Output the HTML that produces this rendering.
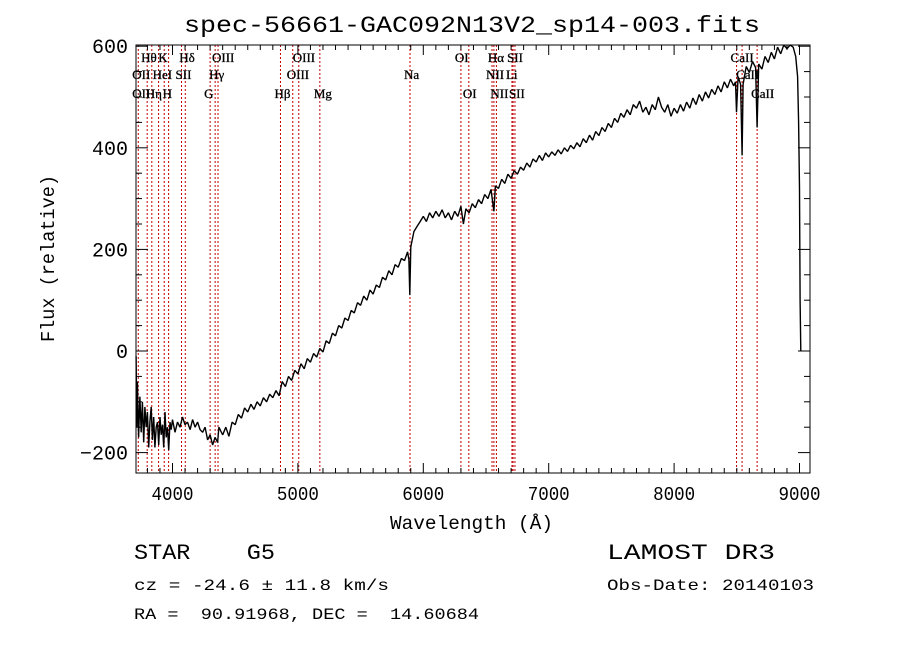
<!DOCTYPE html>
<html><head><meta charset="utf-8">
<style>
html,body{margin:0;padding:0;background:#fff;}
svg{display:block;}
.t{font-family:"Liberation Mono",monospace;fill:#000;white-space:pre;}
.lab{font-family:"Liberation Serif",serif;font-size:13px;fill:#000;}
</style></head>
<body>
<svg id="chart" width="900" height="649" xmlns="http://www.w3.org/2000/svg">
<rect width="900" height="649" fill="#fff"/>
<text class="t" x="184" y="32" font-size="23" textLength="576" lengthAdjust="spacingAndGlyphs">spec-56661-GAC092N13V2_sp14-003.fits</text>
<g id="lines"></g>
<g id="labels"></g>
<g id="spec"></g>
<g id="axes"></g>
<text class="t" x="390" y="529" font-size="19" textLength="163" lengthAdjust="spacingAndGlyphs">Wavelength (Å)</text>
<text class="t" font-size="19" textLength="167" lengthAdjust="spacingAndGlyphs" transform="translate(54,342) rotate(-90)">Flux (relative)</text>
<text class="t" x="134" y="559" font-size="22" textLength="141" lengthAdjust="spacingAndGlyphs">STAR    G5</text>
<text class="t" x="607" y="559" font-size="22" textLength="168" lengthAdjust="spacingAndGlyphs">LAMOST DR3</text>
<text class="t" x="134" y="590" font-size="16" textLength="255" lengthAdjust="spacingAndGlyphs">cz = -24.6 ± 11.8 km/s</text>
<text class="t" x="607" y="590" font-size="16" textLength="207" lengthAdjust="spacingAndGlyphs">Obs-Date: 20140103</text>
<text class="t" x="134" y="619" font-size="16" textLength="345" lengthAdjust="spacingAndGlyphs">RA =  90.91968, DEC =  14.60684</text>
</svg>
<script>
const wave=[3710,3715,3720,3730,3740,3750,3760,3770,3780,3790,3800,3810,3820,3830,3840,3850,3860,3870,3880,3890,3900,3910,3920,3930,3940,3950,3960,3970,3980,3990,4000,4020,4040,4060,4080,4100,4120,4140,4160,4180,4200,4220,4240,4260,4280,4300,4320,4340,4360,4370,4390,
4400,4425,4450,4475,4500,4525,4550,4575,4600,4625,4650,4675,4700,4725,4750,4775,4800,4825,4850,4875,4900,4925,4950,4975,5000,5025,5050,5075,5100,5125,5150,5175,5200,5225,5250,5275,5300,5325,5350,5375,5400,5425,5450,5475,5500,5525,5550,5575,5600,5625,5650,5675,5700,5725,5750,5775,5800,5825,5850,5875,5885,5892,5900,5925,5950,5975,6000,6025,6050,6075,6100,6125,6150,6175,6200,6225,6250,6275,6300,6320,6340,6365,6390,6415,6440,6465,6490,6515,6540,6563,6575,6600,6625,6650,6675,6700,6725,6750,6775,6800,6825,6850,6875,6900,6925,6950,6975,7000,7025,7050,7075,7100,7125,7150,7175,7200,7225,7250,7275,7300,7325,7350,7375,7400,7425,7450,7475,7500,7525,7550,7575,7600,7625,7650,7675,7700,7725,7750,7775,7800,7825,7850,7875,7900,7925,7950,7975,8000,8025,8050,8075,8100,8125,8150,8175,8200,8225,8250,8275,8300,8325,8350,8375,8400,8425,8450,8475,8490,8498,8510,8530,8542,8550,8575,8600,8625,8650,8662,8675,8700,8725,8750,8775,8800,8825,8850,8875,8900,8925,8950,8970,8985,8993,9000,9005,9010];
const flux=[-10,-150,-60,-170,-90,-160,-100,-180,-110,-150,-120,-190,-140,-110,-175,-130,-190,-150,-140,-185,-130,-165,-145,-190,-120,-170,-150,-195,-140,-155,-135,-160,-140,-150,-130,-145,-140,-155,-135,-150,-140,-155,-160,-150,-175,-165,-185,-170,-180,-150,-160,
-165,-150,-168,-140,-145,-125,-132,-112,-120,-105,-115,-100,-108,-92,-100,-85,-92,-78,-88,-60,-70,-50,-58,-38,-45,-25,-35,-15,-22,-5,-12,5,-2,20,15,35,30,50,45,65,60,80,75,95,90,108,100,120,112,130,125,145,140,158,150,170,165,182,178,195,180,110,205,235,245,255,265,255,272,262,275,265,278,262,272,258,275,265,285,250,280,272,290,282,298,290,308,300,318,275,325,320,338,330,348,340,355,348,362,356,370,362,378,372,385,375,390,382,392,385,396,388,400,393,405,398,410,402,418,410,425,415,432,424,440,432,448,440,458,450,468,460,475,465,485,478,492,470,480,465,485,475,500,480,470,485,462,478,468,485,472,490,478,498,485,505,492,510,498,515,505,522,510,530,518,535,522,530,470,540,525,385,525,560,548,570,558,440,565,555,580,568,588,575,598,585,605,595,610,598,580,540,450,320,100,0];
const lineWaves=[3727,3798,3835,3889,3934,3969,4072,4102,4300,4340,4363,4861,4959,5007,5175,5894,6300,6363,6548,6563,6583,6707,6716,6731,8498,8542,8662];
const labelText=["Hθ","K","Hδ","OIII","OIII","OII","HeI","SII","Hγ","OIII","OII","Hη","H","G","Hβ","Mg","OI","Hα","SII","Na","NII","Li","OI","NII","SII","CaII","CaII","CaII"];
const labelWave=[3798,3934,4102,4363,5007,3727,3889,4072,4340,4959,3727,3835,3969,4300,4861,5175,6300,6563,6716,5894,6548,6707,6363,6583,6731,8498,8542,8662];
const labelRow=[0,0,0,0,0,1,1,1,1,1,2,2,2,2,2,2,0,0,0,1,1,1,2,2,2,0,1,2];
const xTicks=[4000,5000,6000,7000,8000,9000];
const yTicks=[-200,0,200,400,600];

const L=136,R=810,T=45,B=473;
const X=w=>172.5+(w-4000)*0.1254;
const Y=f=>351-f*0.508;
const NS="http://www.w3.org/2000/svg";
function mk(tag,attrs,parent){const e=document.createElementNS(NS,tag);for(const k in attrs)e.setAttribute(k,attrs[k]);parent.appendChild(e);return e;}

const gl=document.getElementById('lines');
lineWaves.forEach(w=>{
  const e=mk('line',{x1:X(w),x2:X(w),y1:T,y2:B,stroke:'#c00000','stroke-width':1,'stroke-dasharray':'2,2'},gl);
  
  
});
const glab=document.getElementById('labels');
const rowY=[62,79,98];
labelText.forEach((t,i)=>{
  const e=mk('text',{x:X(labelWave[i])-6,y:rowY[labelRow[i]],class:'lab','stroke':'#000','stroke-width':0.3},glab);
  e.textContent=t;
  
  
});

const gs=document.getElementById('spec');
let d='';
wave.forEach((w,i)=>{const y=Math.max(T,Math.min(B,Y(flux[i])));d+=(i?'L':'M')+X(w).toFixed(1)+' '+y.toFixed(1);});
const p=mk('path',{d:d,fill:'none',stroke:'#000','stroke-width':1.4,'stroke-linejoin':'bevel'},gs);



const ga=document.getElementById('axes');
const fr=mk('rect',{x:L,y:T,width:R-L,height:B-T,fill:'none',stroke:'#000','stroke-width':1},ga);


for(let w=3800;w<=9000;w+=100){
  const major=w%1000===0;const len=major?10:5;const x=X(w);
  mk('line',{x1:x,x2:x,y1:B,y2:B-len,stroke:'#000'},ga);
  mk('line',{x1:x,x2:x,y1:T,y2:T+len,stroke:'#000'},ga);
}
xTicks.forEach(w=>{
  const e=mk('text',{x:X(w)-21,y:500,class:'t','font-size':19,textLength:42,lengthAdjust:'spacingAndGlyphs'},ga);
  e.textContent=w;
  
  
});
for(let f=-200;f<=600;f+=50){
  const major=f%200===0;const len=major?12:6;const y=Y(f);
  mk('line',{x1:L,x2:L+len,y1:y,y2:y,stroke:'#000'},ga);
  mk('line',{x1:R,x2:R-len,y1:y,y2:y,stroke:'#000'},ga);
}
yTicks.forEach(f=>{
  const e=mk('text',{x:128,y:Y(f)+7,class:'t','font-size':20,'text-anchor':'end'},ga);
  e.textContent=(f<0?'\u2212':'')+Math.abs(f);
  
  
});
</script>
</body></html>
